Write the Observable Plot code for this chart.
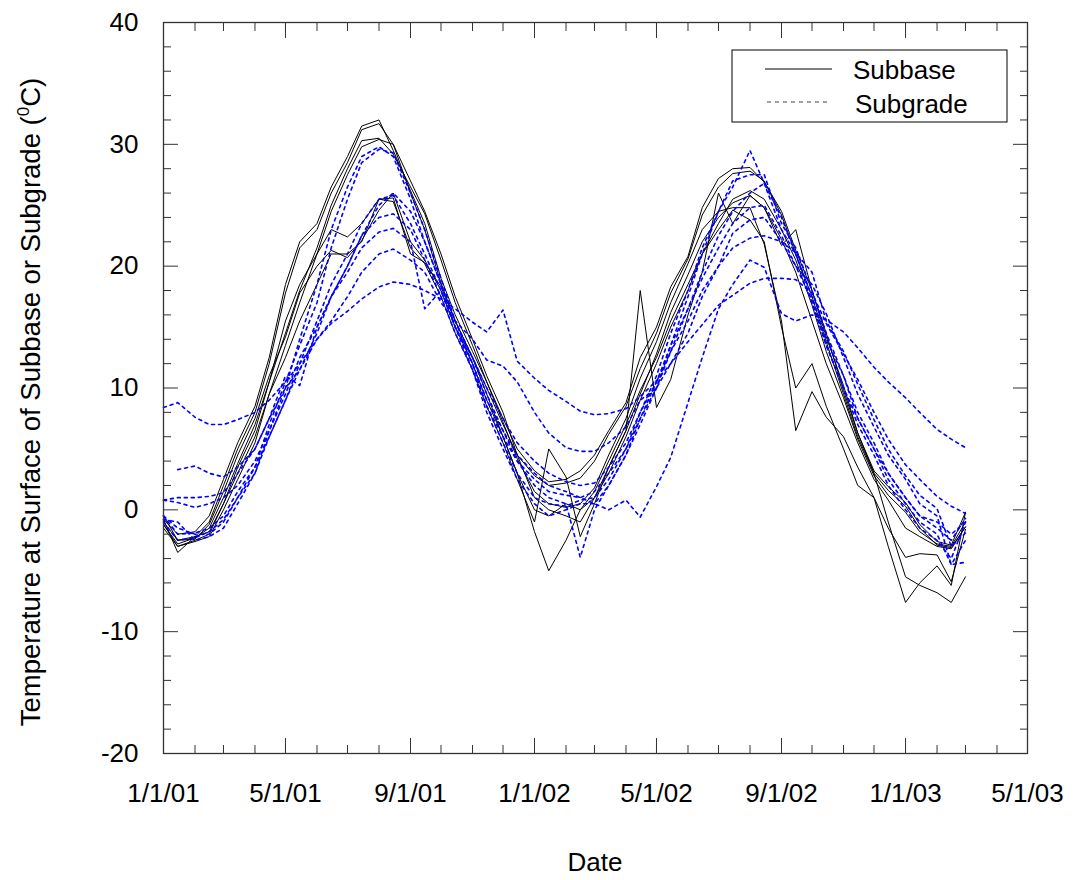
<!DOCTYPE html>
<html>
<head>
<meta charset="utf-8">
<script src="https://cdn.jsdelivr.net/npm/d3@7"></script>
<script src="https://cdn.jsdelivr.net/npm/@observablehq/plot@0.6"></script>
<style>
  body { margin: 0; background: #fff; }
  #chart { width: 1074px; height: 880px; }
</style>
</head>
<body>
<div id="chart"></div>
<script>
// Sampling dates shared by every sensor record (1st and 15th of each month)
const sampleDates = [
  "2001-01-01","2001-01-15","2001-02-01","2001-02-15","2001-03-01","2001-03-15",
  "2001-04-01","2001-04-15","2001-05-01","2001-05-15","2001-06-01","2001-06-15",
  "2001-07-01","2001-07-15","2001-08-01","2001-08-15","2001-09-01","2001-09-15",
  "2001-10-01","2001-10-15","2001-11-01","2001-11-15","2001-12-01","2001-12-15",
  "2002-01-01","2002-01-15","2002-02-01","2002-02-15","2002-03-01","2002-03-15",
  "2002-04-01","2002-04-15","2002-05-01","2002-05-15","2002-06-01","2002-06-15",
  "2002-07-01","2002-07-15","2002-08-01","2002-08-15","2002-09-01","2002-09-15",
  "2002-10-01","2002-10-15","2002-11-01","2002-11-15","2002-12-01","2002-12-15",
  "2003-01-01","2003-01-15","2003-02-01","2003-02-15","2003-03-01"
];

// Subbase surface temperatures (°C), one array per section
const subbase1 = [
  -0.8, -2.0, -1.8, -0.5, 2.5, 5.5, 8.5, 12.5, 18.5, 22.0, 23.5, 26.5,
  29.0, 31.5, 32.0, 29.5, 26.2, 23.5, 19.0, 16.0, 13.0, 10.5, 7.5, 5.0,
  3.2, 2.3, 2.5, 3.2, 4.5, 6.5, 8.8, 12.5, 15.0, 18.3, 20.8, 24.8,
  27.2, 28.0, 28.1, 26.9, 24.5, 21.3, 18.0, 14.5, 9.8, 6.3, 3.2, 1.9,
  0.6, -1.2, -2.6, -2.9, -0.2
];
const subbase2 = [
  -1.0, -2.5, -2.2, -1.0, 2.0, 5.0, 8.0, 12.0, 17.8, 21.5, 23.0, 26.0,
  28.5, 31.2, 31.7, 30.0, 26.0, 23.0, 18.6, 15.5, 12.5, 10.0, 7.0, 4.5,
  2.8, 2.0, 2.2, 2.6, 4.0, 6.2, 8.5, 11.6, 14.5, 17.8, 20.6, 24.2,
  26.5, 27.6, 27.8, 27.0, 24.2, 21.0, 17.5, 13.8, 9.5, 6.0, 3.0, 1.6,
  0.3, -1.5, -2.9, -3.1, -1.4
];
const subbase3 = [
  -1.2, -2.8, -2.3, -1.5, 1.0, 3.8, 7.0, 10.5, 14.5, 18.0, 21.5, 25.0,
  28.0, 30.3, 30.5, 29.2, 26.5, 24.3, 20.5, 17.0, 13.5, 10.5, 7.2, 4.2,
  1.5, 0.5, 0.2, 0.5, 1.8, 4.5, 7.5, 10.8, 13.8, 17.0, 20.2, 23.0,
  24.5, 24.8, 24.8, 21.8, 15.5, 6.5, 9.7, 7.6, 6.0, 3.5, 1.0, -1.5,
  -3.9, -3.6, -3.7, -5.9, -1.6
];
const subbase4 = [
  -1.5, -3.0, -2.5, -2.0, 0.5, 3.0, 6.0, 9.5, 13.5, 17.0, 21.0, 24.5,
  27.5, 29.8, 30.4, 30.0, 27.0, 24.5, 21.0, 17.5, 14.0, 11.0, 8.0, 4.5,
  1.0, 0.0, -0.5, -1.0, 1.0, 3.5, 6.5, 18.0, 8.4, 10.7, 16.0, 19.5,
  26.0, 23.5, 25.8, 24.8, 21.7, 23.0, 18.0, 14.2, 10.2, 6.3, 3.0, -1.0,
  -5.5, -6.2, -6.8, -7.6, -5.5
];
const subbase5 = [
  -0.8, -3.5, -2.2, -1.8, 0.5, 3.5, 6.5, 10.5, 15.5, 18.5, 21.0, 23.0,
  22.4, 23.5, 25.5, 25.6, 21.0, 20.3, 18.3, 15.5, 12.5, 9.5, 6.0, 3.0,
  -1.8, -5.0, -2.5, 0.0, 1.5, 4.0, 7.0, 9.8, 12.5, 15.5, 18.5, 21.0,
  23.0, 24.6, 23.8, 22.0, 15.0, 10.0, 12.0, 8.5, 5.0, 2.0, 1.0, -3.0,
  -7.6, -6.0, -4.6, -6.2, -0.2
];
const subbase6 = [
  -1.2, -3.0, -2.6, -2.2, 0.0, 2.5, 5.5, 9.5, 12.5, 15.5, 18.5, 21.0,
  21.0, 22.0, 25.5, 25.3, 21.5, 20.2, 17.5, 14.5, 11.5, 8.5, 5.5, 2.5,
  -1.0, 5.0, 2.7, -2.2, 0.5, 3.5, 6.5, 9.5, 12.8, 16.2, 19.3, 22.0,
  24.0, 25.2, 25.8, 24.8, 22.2, 19.5, 15.5, 12.0, 8.5, 5.5, 2.5, 0.8,
  -1.5, -2.2, -3.0, -3.2, -1.4
];
const subbase7 = [
  -0.5, -2.5, -2.4, -1.2, 1.5, 4.5, 7.5, 11.0, 14.2, 17.8, 20.0, 21.3,
  20.7, 22.1, 24.6, 26.0, 22.0, 20.5, 18.0, 15.0, 12.0, 9.0, 6.0, 3.0,
  0.0, -0.5, 0.5, 0.0, 1.0, 3.0, 6.0, 9.0, 12.0, 15.0, 18.0, 21.0,
  23.5, 25.5, 26.2, 25.5, 23.0, 20.5, 16.8, 13.0, 9.2, 5.8, 2.8, 1.2,
  -0.2, -1.8, -2.8, -3.0, -1.0
];

// Subgrade surface temperatures (°C), one array per section
const subgrade1 = [
  8.4, 8.8, 7.6, 7.0, 7.0, 7.4, 8.0, 9.0, 10.5, 12.0, 14.0, 15.3,
  16.3, 17.3, 18.3, 18.7, 18.5, 18.0, 17.3, 16.5, 15.4, 14.6, 16.4, 12.2,
  10.8, 9.8, 8.9, 8.1, 7.8, 7.9, 8.3, 9.3, 10.6, 12.0, 13.8, 15.2,
  16.8, 17.6, 18.6, 19.0, 19.0, 18.9, 17.8, 15.3, 12.8, 10.7, 8.0, 5.8,
  3.7, 2.5, 1.1, 0.3, -0.3
];
const subgrade2 = [
  null, 3.3, 3.6, 3.0, 2.7, 3.5, 5.0, 7.5, 10.0, 11.5, 14.0, 15.5,
  17.5, 19.5, 21.0, 21.4, 20.5, 19.5, 17.0, 15.5, 14.0, 12.3, 11.8, 10.5,
  8.0, 6.3, 5.1, 4.8, 4.8, 5.5, 6.8, 9.0, 10.0, 12.0, 14.5, 17.5,
  20.0, 22.7, 23.8, 24.0, 22.0, 20.0, 18.5, 16.1, 12.5, 9.5, 6.8, 4.5,
  2.5, 0.5, -0.5, -4.5, -4.3
];
const subgrade3 = [
  0.8, 1.0, 1.0, 1.1, 1.4, 3.0, 5.0, 7.5, 11.0, 10.2, 15.0, 17.5,
  19.5, 21.5, 22.8, 23.1, 22.0, 16.5, 18.0, 15.0, 12.5, 10.0, 7.5, 5.5,
  4.0, 3.0, 2.3, 2.0, 2.2, 3.5, 5.5, 8.0, 10.5, 13.0, 15.5, 18.0,
  20.0, 21.5, 22.3, 22.5, 22.0, 21.1, 19.5, 15.5, 13.0, 10.3, 7.4, 5.0,
  2.8, 1.2, 0.1, -3.0, -1.9
];
const subgrade4 = [
  0.8, 0.6, 0.2, 0.5, 1.0, 2.0, 4.0, 6.5, 9.5, 12.5, 15.0, 17.5,
  20.0, 22.5, 24.0, 24.3, 23.0, 20.5, 17.5, 14.5, 11.5, 8.5, 6.0, 4.0,
  2.5, 1.5, 1.2, 1.0, 1.5, 3.0, 5.0, 7.5, 10.5, 13.5, 16.5, 19.0,
  21.5, 23.5, 24.8, 25.0, 22.5, 20.0, 17.2, 13.5, 10.0, 7.5, 5.0, 3.0,
  1.0, -0.5, -1.5, -2.5, -0.7
];
const subgrade5 = [
  -0.5, -2.0, -1.9, -1.5, -0.5, 1.5, 3.5, 6.0, 9.0, 12.0, 15.5, 18.5,
  21.0, 23.5, 25.5, 25.8, 23.5, 21.0, 18.0, 15.0, 12.0, 9.0, 6.5, 4.5,
  3.0, 2.0, 1.5, 1.0, 0.5, 0.0, 0.8, -0.6, 1.9, 4.3, 8.8, 12.5,
  16.5, 18.5, 20.5, 19.9, 16.1, 15.5, 16.0, 15.6, 14.6, 13.3, 11.7, 10.5,
  9.2, 8.0, 6.6, 5.8, 5.1
];
const subgrade6 = [
  -1.0, -2.5, -2.3, -1.8, -0.8, 1.0, 3.0, 6.0, 9.0, 11.5, 14.5, 17.5,
  20.0, 22.5, 25.0, 26.0, 24.5, 22.0, 18.5, 15.5, 12.5, 9.5, 6.5, 4.0,
  2.0, 1.0, 0.5, -3.9, 0.0, 2.0, 4.5, 7.5, 10.0, 13.0, 16.5, 19.5,
  22.5, 24.5, 26.0, 26.8, 24.0, 21.0, 17.5, 14.0, 11.0, 8.0, 5.5, 3.0,
  1.0, -0.5, -1.0, -2.0, -1.0
];
const subgrade7 = [
  -0.5, -1.5, -2.0, -2.0, -1.0, 1.0, 3.5, 7.0, 10.5, 13.5, 17.0, 21.5,
  25.5, 28.5, 29.6, 29.3, 26.0, 23.0, 19.0, 15.5, 12.0, 8.5, 5.5, 3.0,
  1.0, 0.5, 0.3, 0.8, 1.0, 2.5, 5.0, 8.0, 11.0, 14.5, 18.0, 21.5,
  24.5, 27.0, 27.5, 27.5, 23.5, 21.5, 18.0, 14.5, 11.0, 7.5, 5.0, 2.5,
  0.5, -1.0, -2.0, -4.5, -2.5
];
const subgrade8 = [
  -0.8, -1.0, -2.5, -2.2, -1.5, 0.5, 3.0, 6.5, 10.0, 14.0, 18.5, 23.0,
  26.5, 29.0, 29.8, 29.0, 25.5, 22.0, 18.5, 15.0, 11.5, 8.0, 5.0, 2.5,
  0.5, -0.5, 0.0, 0.5, 0.5, 2.0, 4.5, 7.0, 10.0, 13.5, 17.5, 21.0,
  24.5, 26.5, 29.5, 26.8, 23.0, 21.0, 17.0, 13.5, 10.0, 7.0, 4.5, 2.0,
  0.0, -1.5, -2.5, -4.0, -1.0
];

// Axis ticks and labels
const xMajorTicks = ["2001-01-01","2001-05-01","2001-09-01","2002-01-01","2002-05-01","2002-09-01","2003-01-01","2003-05-01"];
const xMajorLabels = ["1/1/01","5/1/01","9/1/01","1/1/02","5/1/02","9/1/02","1/1/03","5/1/03"];
const yMajorTicks = [-20, -10, 0, 10, 20, 30, 40];
const yMinorTicks = [-18, -16, -14, -12, -8, -6, -4, -2, 2, 4, 6, 8, 12, 14, 16, 18, 22, 24, 26, 28, 32, 34, 36, 38];

const parseDate = d3.utcParse("%Y-%m-%d");
const dates = sampleDates.map(parseDate);

function toRows(seriesList, layer) {
  const rows = [];
  seriesList.forEach((values, k) => {
    values.forEach((v, i) => rows.push({series: `${layer} ${k + 1}`, date: dates[i], temp: v}));
  });
  return rows;
}
const subbaseRows = toRows([subbase1, subbase2, subbase3, subbase4, subbase5, subbase6, subbase7], "Subbase");
const subgradeRows = toRows([subgrade1, subgrade2, subgrade3, subgrade4, subgrade5, subgrade6, subgrade7, subgrade8], "Subgrade");

const xMajorDates = xMajorTicks.map(parseDate);
const xLabelByTime = new Map(xMajorDates.map((d, i) => [+d, xMajorLabels[i]]));
const axisStroke = "#333";
const FONT = "'Liberation Sans', Arial, Helvetica, sans-serif";

const chart = Plot.plot({
  width: 1074,
  height: 880,
  marginLeft: 163,
  marginRight: 47,
  marginTop: 22,
  marginBottom: 127,
  x: {type: "utc", domain: [parseDate("2001-01-01"), parseDate("2003-05-01")]},
  y: {domain: [-20, 40]},
  style: {fontFamily: FONT, fontSize: "26px", color: "#000", background: "#fff", overflow: "visible"},
  marks: [
    Plot.line(subbaseRows, {x: "date", y: "temp", z: "series", stroke: "#000", strokeWidth: 1}),
    Plot.line(subgradeRows, {x: "date", y: "temp", z: "series", stroke: "#0000ff", strokeWidth: 1.6, strokeDasharray: "3,4"}),
    Plot.frame({stroke: axisStroke, strokeWidth: 1.3}),
    // inward tick marks on all four sides
    Plot.axisX({anchor: "bottom", ticks: xMajorDates, tickSize: -15, fill: "none", stroke: axisStroke}),
    Plot.axisX({anchor: "top", ticks: xMajorDates, tickSize: -15, fill: "none", stroke: axisStroke}),
    Plot.axisX({anchor: "bottom", ticks: d3.utcMonth.every(1), tickSize: -8, fill: "none", stroke: axisStroke}),
    Plot.axisX({anchor: "top", ticks: d3.utcMonth.every(1), tickSize: -8, fill: "none", stroke: axisStroke}),
    Plot.axisY({anchor: "left", ticks: yMajorTicks, tickSize: -15, fill: "none", stroke: axisStroke}),
    Plot.axisY({anchor: "right", ticks: yMajorTicks, tickSize: -15, fill: "none", stroke: axisStroke}),
    Plot.axisY({anchor: "left", ticks: yMinorTicks, tickSize: -8, fill: "none", stroke: axisStroke}),
    Plot.axisY({anchor: "right", ticks: yMinorTicks, tickSize: -8, fill: "none", stroke: axisStroke}),
    // tick labels
    Plot.axisX({anchor: "bottom", ticks: xMajorDates, tickSize: 0, tickPadding: 30, tickFormat: d => xLabelByTime.get(+d), label: null}),
    Plot.axisY({anchor: "left", ticks: yMajorTicks, tickSize: 0, tickPadding: 25, tickFormat: d => String(d), label: null})
  ]
});

document.getElementById("chart").append(chart);

const svg = d3.select(chart);

// Axis titles
svg.append("text")
  .attr("x", 595).attr("y", 871)
  .attr("text-anchor", "middle")
  .attr("font-family", FONT).attr("font-size", 26)
  .text("Date");

const yTitle = svg.append("text")
  .attr("transform", "translate(40,402) rotate(-90)")
  .attr("text-anchor", "middle")
  .attr("font-family", FONT).attr("font-size", 27.5);
yTitle.append("tspan").text("Temperature at Surface of Subbase or Subgrade (");
yTitle.append("tspan").attr("font-size", 17).attr("dy", -11).text("0");
yTitle.append("tspan").attr("dy", 11).text("C)");

// Legend box
const legend = svg.append("g")
  .attr("font-family", FONT).attr("font-size", 26).attr("text-anchor", "start");
legend.append("rect")
  .attr("x", 732).attr("y", 50).attr("width", 275).attr("height", 72)
  .attr("fill", "#fff").attr("stroke", "#000").attr("stroke-width", 1);
legend.append("line")
  .attr("x1", 765).attr("x2", 832).attr("y1", 69).attr("y2", 69)
  .attr("stroke", "#000").attr("stroke-width", 1);
legend.append("text").attr("x", 853).attr("y", 79).text("Subbase");
legend.append("line")
  .attr("x1", 767).attr("x2", 830).attr("y1", 102).attr("y2", 102)
  .attr("stroke", "#444").attr("stroke-width", 1).attr("stroke-dasharray", "4,4");
legend.append("text").attr("x", 855).attr("y", 113).text("Subgrade");
</script>
</body>
</html>
